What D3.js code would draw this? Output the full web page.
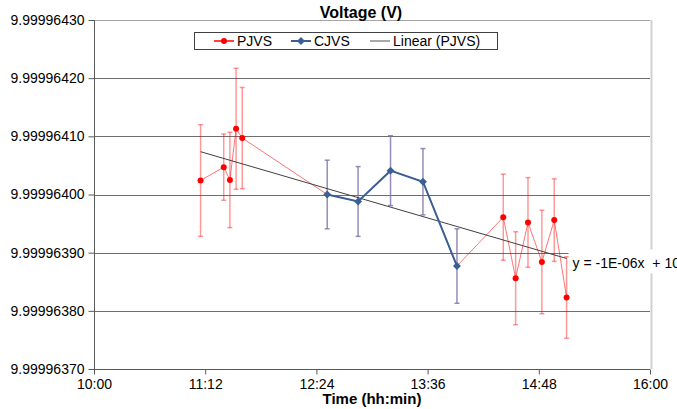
<!DOCTYPE html>
<html>
<head>
<meta charset="utf-8">
<script src="https://cdn.jsdelivr.net/npm/d3@7"></script>
<style>
  body {margin: 0; background: #fff;}
  svg {display: block; font-family: 'Liberation Sans', Arial, sans-serif;}
</style>
</head>
<body>
<svg id="chart"></svg>
<script>
// values
const pjvsTime = ['11:09', '11:24', '11:28', '11:32', '11:36', '14:25', '14:33', '14:41', '14:50', '14:58', '15:06'];
const pjvsValue = [9.999964024, 9.999964047, 9.999964025, 9.999964113, 9.999964097,
  9.999963961, 9.999963856, 9.999963952, 9.999963884, 9.999963956, 9.999963823];
const pjvsErr = [9.6e-8, 5.7e-8, 8.2e-8, 10.4e-8, 8.7e-8, 7.4e-8, 8.0e-8, 7.7e-8, 8.9e-8, 7.1e-8, 7.0e-8];

const cjvsTime = ['12:31', '12:51', '13:12', '13:33', '13:55'];
const cjvsValue = [9.999964000, 9.999963988, 9.999964041, 9.999964022, 9.999963877];
const cjvsErr = [5.9e-8, 6.0e-8, 6.0e-8, 5.7e-8, 6.4e-8];

const xTicks = ['10:00', '11:12', '12:24', '13:36', '14:48', '16:00'];
const yTicks = [9.9999637, 9.9999638, 9.9999639, 9.9999640, 9.9999641, 9.9999642, 9.9999643];
const legendLabels = ['PJVS', 'CJVS', 'Linear (PJVS)'];
const trendLabel = 'y = -1E-06x  + 10';

const width = 677;
const height = 409;
const plotLeft = 94;
const plotRight = 650;
const plotTop = 20;
const plotBottom = 369;
const red = '#ff0000';
const blue = '#3a5f95';

const parseTime = d3.timeParse('%H:%M');
const formatTime = d3.timeFormat('%H:%M');

const pjvs = pjvsTime.map((t, i) => ({t: parseTime(t), v: pjvsValue[i], e: pjvsErr[i]}));
const cjvs = cjvsTime.map((t, i) => ({t: parseTime(t), v: cjvsValue[i], e: cjvsErr[i]}));
// the red trace in the source runs through the CJVS points as well
const allPoints = pjvs.concat(cjvs).sort((a, b) => a.t - b.t);

const x = d3.scaleTime()
    .domain([parseTime(xTicks[0]), parseTime(xTicks[xTicks.length - 1])])
    .range([plotLeft, plotRight]);
const y = d3.scaleLinear()
    .domain([yTicks[0], yTicks[yTicks.length - 1]])
    .range([plotBottom, plotTop]);

const svg = d3.select('#chart')
    .attr('width', width)
    .attr('height', height)
    .attr('viewBox', [0, 0, width, height]);

// grid
svg.append('g')
    .selectAll('line')
    .data(yTicks)
    .join('line')
    .attr('x1', plotLeft)
    .attr('x2', plotRight)
    .attr('y1', (d) => Math.round(y(d)) + 0.5)
    .attr('y2', (d) => Math.round(y(d)) + 0.5)
    .attr('stroke', (d, i) => i === yTicks.length - 1 ? '#a6a6a6' : '#6e6e6e')
    .attr('stroke-width', 1);

svg.append('line')
    .attr('x1', plotRight + 1.5)
    .attr('x2', plotRight + 1.5)
    .attr('y1', plotTop)
    .attr('y2', plotBottom)
    .attr('stroke', '#d0d0d0')
    .attr('stroke-width', 2);

// axes
const yAxis = d3.axisLeft(y)
    .tickValues(yTicks)
    .tickFormat(d3.format('.8f'))
    .tickSize(6)
    .tickPadding(4);
const gy = svg.append('g')
    .attr('transform', `translate(${plotLeft + 0.5},0)`)
    .call(yAxis);
gy.select('.domain').attr('stroke', '#595959').attr('d', `M0,${plotTop}V${plotBottom}`);
gy.selectAll('.tick line').attr('stroke', '#595959');
gy.selectAll('.tick text').attr('font-size', 14).attr('fill', '#000').attr('font-family', null);

const xAxis = d3.axisBottom(x)
    .tickValues(xTicks.map(parseTime))
    .tickFormat(formatTime)
    .tickSize(5)
    .tickPadding(5);
const gx = svg.append('g')
    .attr('transform', `translate(0,${Math.round(y(yTicks[0])) + 0.5})`)
    .call(xAxis);
gx.select('.domain').attr('stroke', '#595959').attr('d', `M${plotLeft},0H${plotRight}`);
gx.selectAll('.tick line').attr('stroke', '#595959');
gx.selectAll('.tick text').attr('font-size', 14).attr('fill', '#000').attr('font-family', null);

// error bars
const errorBars = (data, color, opacity) => {
  const g = svg.append('g')
      .attr('stroke', color)
      .attr('stroke-opacity', opacity)
      .attr('stroke-width', 1.5)
      .selectAll('g')
      .data(data)
      .join('g');
  g.append('line')
      .attr('x1', (d) => x(d.t))
      .attr('x2', (d) => x(d.t))
      .attr('y1', (d) => y(d.v + d.e))
      .attr('y2', (d) => y(d.v - d.e));
  g.append('line')
      .attr('x1', (d) => x(d.t) - 2.5)
      .attr('x2', (d) => x(d.t) + 2.5)
      .attr('y1', (d) => y(d.v + d.e))
      .attr('y2', (d) => y(d.v + d.e));
  g.append('line')
      .attr('x1', (d) => x(d.t) - 2.5)
      .attr('x2', (d) => x(d.t) + 2.5)
      .attr('y1', (d) => y(d.v - d.e))
      .attr('y2', (d) => y(d.v - d.e));
};
errorBars(pjvs, red, 0.4);
errorBars(cjvs, '#7d6fa6', 0.8);

const line = d3.line()
    .x((d) => x(d.t))
    .y((d) => y(d.v));

svg.append('path')
    .attr('d', line(allPoints))
    .attr('fill', 'none')
    .attr('stroke', red)
    .attr('stroke-opacity', 0.55)
    .attr('stroke-width', 1);

// linear trend of the PJVS points
const tx = pjvs.map((d) => +d.t);
const mx = d3.mean(tx);
const my = d3.mean(pjvs, (d) => d.v);
const slope = d3.sum(pjvs, (d, i) => (tx[i] - mx) * (d.v - my)) / d3.sum(tx, (t) => (t - mx) * (t - mx));
const trendX = d3.extent(pjvs, (d) => d.t);
const trend = trendX.map((t) => ({t: t, v: my + slope * (+t - mx)}));
svg.append('path')
    .attr('d', line(trend))
    .attr('fill', 'none')
    .attr('stroke', '#404040')
    .attr('stroke-width', 1);

svg.append('path')
    .attr('d', line(cjvs))
    .attr('fill', 'none')
    .attr('stroke', blue)
    .attr('stroke-width', 2);

svg.append('g')
    .selectAll('circle')
    .data(pjvs)
    .join('circle')
    .attr('cx', (d) => x(d.t))
    .attr('cy', (d) => y(d.v))
    .attr('r', 3)
    .attr('fill', red);

const diamond = d3.symbol().type(d3.symbolDiamond2).size(40);
svg.append('g')
    .selectAll('path')
    .data(cjvs)
    .join('path')
    .attr('transform', (d) => `translate(${x(d.t)},${y(d.v)})`)
    .attr('d', diamond)
    .attr('fill', blue);

// trend line label, with its white box
const last = trend[1];
svg.append('rect')
    .attr('x', x(last.t) + 2)
    .attr('y', y(last.v) - 9)
    .attr('width', 120)
    .attr('height', 24)
    .attr('fill', '#fff');
svg.append('text')
    .attr('x', x(last.t) + 6)
    .attr('y', y(last.v) + 10)
    .attr('font-size', 14)
    .style('white-space', 'pre')
    .text(trendLabel);

// titles
svg.append('text')
    .attr('x', 361)
    .attr('y', 18)
    .attr('text-anchor', 'middle')
    .attr('font-size', 16)
    .attr('font-weight', 'bold')
    .text('Voltage (V)');
svg.append('text')
    .attr('x', (plotLeft + plotRight) / 2)
    .attr('y', 404)
    .attr('text-anchor', 'middle')
    .attr('font-size', 15)
    .attr('font-weight', 'bold')
    .text('Time (hh:min)');

// legend
const legend = svg.append('g').attr('transform', 'translate(194,32)');
legend.append('rect')
    .attr('x', 0.5)
    .attr('y', 0.5)
    .attr('width', 303)
    .attr('height', 17)
    .attr('fill', '#fff')
    .attr('stroke', '#404040');
const legendX = [20, 97, 176];
const legendColor = [red, blue, '#8c8c8c'];
const item = legend.selectAll('g.item')
    .data(legendLabels)
    .join('g')
    .attr('class', 'item')
    .attr('transform', (d, i) => `translate(${legendX[i]},9)`);
item.append('line')
    .attr('x1', 0)
    .attr('x2', 20)
    .attr('stroke', (d, i) => legendColor[i])
    .attr('stroke-width', (d, i) => i === 1 ? 2 : 1.5);
item.filter((d, i) => i === 0)
    .append('circle')
    .attr('cx', 10)
    .attr('r', 3)
    .attr('fill', red);
item.filter((d, i) => i === 1)
    .append('path')
    .attr('transform', 'translate(10,0)')
    .attr('d', diamond)
    .attr('fill', blue);
item.append('text')
    .attr('x', 23)
    .attr('y', 5)
    .attr('font-size', 14)
    .text((d) => d);
</script>
</body>
</html>
